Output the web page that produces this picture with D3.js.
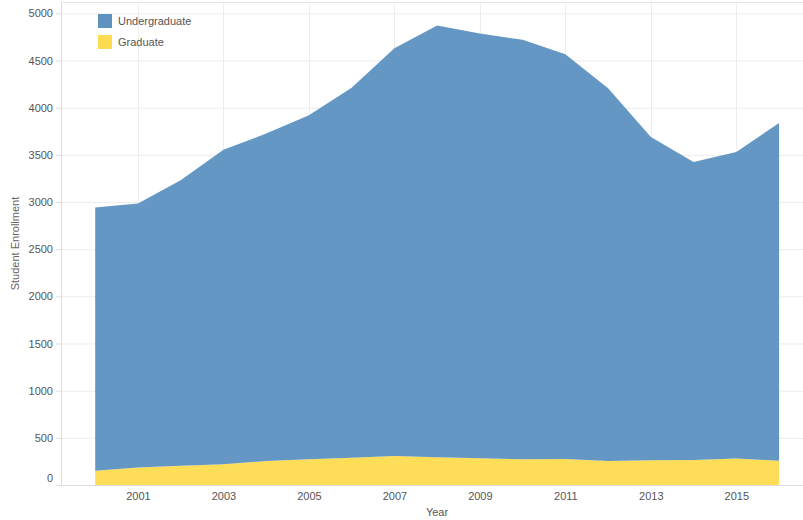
<!DOCTYPE html>
<html lang="en">
<head>
  <meta charset="UTF-8">
  <title>Student Enrollment by Year</title>
  <script src="https://d3js.org/d3.v7.min.js"></script>
  <style>
    body { margin: 0; background: #fff; }
    text { font-family: "Liberation Sans", Arial, sans-serif; }
    .grid line { stroke: #ececec; stroke-width: 1; }
    .axis text { fill: #555; font-size: 11px; }
    .axis path, .axis line { stroke: #ddd; }
  </style>
</head>
<body>
<script>
  // data
  const years = [2000, 2001, 2002, 2003, 2004, 2005, 2006, 2007, 2008,
                 2009, 2010, 2011, 2012, 2013, 2014, 2015, 2016];
  const graduate = [150, 185, 205, 220, 255, 272, 290, 307, 293,
                    283, 272, 276, 255, 262, 265, 280, 258];
  const total = [2942, 2984, 3230, 3555, 3725, 3920, 4210, 4630, 4870,
                 4785, 4720, 4565, 4205, 3690, 3425, 3530, 3838];
  const undergraduate = total.map((t, i) => t - graduate[i]);

  const yTicks = [0, 500, 1000, 1500, 2000, 2500, 3000, 3500, 4000, 4500, 5000];
  const xTicks = [2001, 2003, 2005, 2007, 2009, 2011, 2013, 2015];
  const seriesNames = ['Undergraduate', 'Graduate'];
  const colors = { Undergraduate: '#5e93c1', Graduate: '#fedc52' };

  const W = 803, H = 520;
  const plotLeft = 61, plotRight = 803, plotTop = 2, plotBottom = 485;

  const svg = d3.select('body').append('svg')
    .attr('width', W)
    .attr('height', H);

  const x = d3.scaleLinear().domain([1999.2, 2016.56]).range([plotLeft, plotRight]);
  const y = d3.scaleLinear().domain([0, 5120]).range([plotBottom, plotTop]);

  // grid
  const grid = svg.append('g').attr('class', 'grid');
  grid.selectAll('.hg').data(yTicks).enter().append('line')
    .attr('x1', plotLeft).attr('x2', plotRight)
    .attr('y1', d => y(d) + 0.5).attr('y2', d => y(d) + 0.5);
  grid.selectAll('.vg').data(xTicks).enter().append('line')
    .attr('x1', d => Math.round(x(d)) + 0.5).attr('x2', d => Math.round(x(d)) + 0.5)
    .attr('y1', plotTop).attr('y2', plotBottom);
  grid.append('line')
    .attr('x1', plotLeft).attr('x2', plotRight)
    .attr('y1', plotTop + 0.5).attr('y2', plotTop + 0.5)
    .style('stroke', '#e4e4e4');

  // stacked areas
  const rows = years.map((yr, i) => ({ year: yr, Graduate: graduate[i], Undergraduate: undergraduate[i] }));
  const stack = d3.stack().keys(['Graduate', 'Undergraduate']);
  const layers = stack(rows);

  const area = d3.area()
    .x(d => x(d.data.year))
    .y0(d => y(d[0]))
    .y1(d => y(d[1]));

  svg.selectAll('.layer')
    .data(layers)
    .enter().append('path')
    .attr('class', 'layer')
    .attr('d', area)
    .style('fill', d => colors[d.key])
    .style('fill-opacity', 0.96);

  // y axis
  const yAxis = svg.append('g')
    .attr('class', 'axis')
    .attr('transform', `translate(${plotLeft},0)`)
    .call(d3.axisLeft(y).tickValues(yTicks).tickFormat(d3.format('d')).tickSize(5).tickPadding(3));
  yAxis.select('.domain').attr('d', `M0.5,${plotTop}V${plotBottom}`);
  yAxis.selectAll('.tick text').filter(d => d === 0).attr('dy', '-0.35em');

  // x axis
  const xAxis = svg.append('g')
    .attr('class', 'axis')
    .attr('transform', `translate(0,${plotBottom})`)
    .call(d3.axisBottom(x).tickValues(xTicks).tickFormat(d3.format('d')).tickSize(0).tickPadding(7));
  xAxis.select('.domain').attr('d', `M${plotLeft},0.5H${plotRight}`);

  // axis titles
  svg.append('text')
    .attr('x', (plotLeft + plotRight) / 2 + 5)
    .attr('y', 516)
    .attr('text-anchor', 'middle')
    .style('font-size', '11px')
    .style('fill', '#555')
    .text('Year');

  svg.append('text')
    .attr('transform', `translate(19,${(plotTop + plotBottom) / 2}) rotate(-90)`)
    .attr('text-anchor', 'middle')
    .style('font-size', '11px')
    .style('fill', '#666')
    .text('Student Enrollment');

  // legend
  const legend = svg.append('g').attr('transform', 'translate(98,14)');
  seriesNames.forEach((name, i) => {
    const g = legend.append('g').attr('transform', `translate(0,${i * 21})`);
    g.append('rect')
      .attr('width', 14).attr('height', 14)
      .style('fill', colors[name]);
    g.append('text')
      .attr('x', 20).attr('y', 7).attr('dy', '0.35em')
      .style('font-size', '11px')
      .style('fill', '#555')
      .text(name);
  });
</script>
</body>
</html>
